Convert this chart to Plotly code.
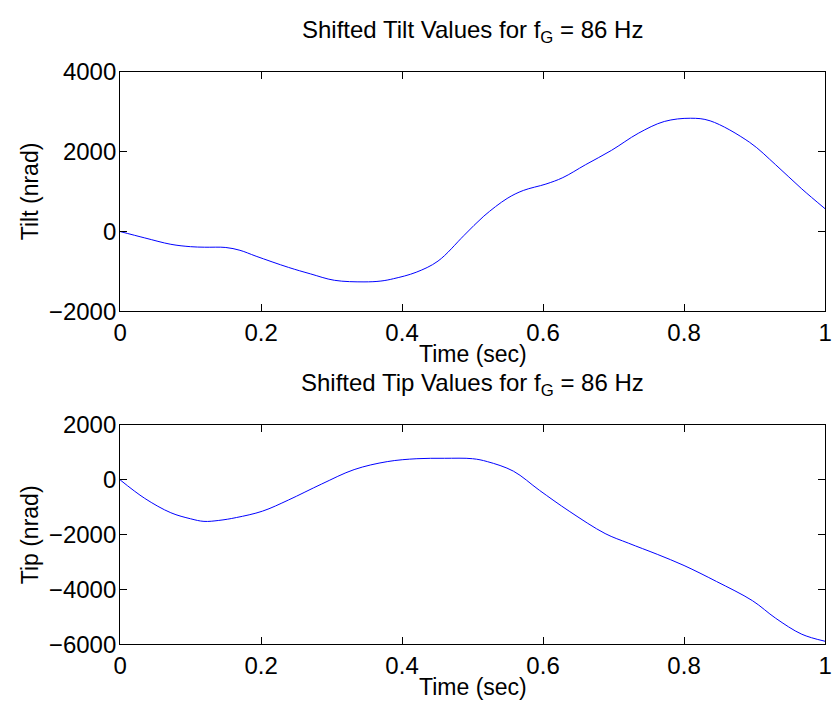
import plotly.graph_objects as go
from plotly.subplots import make_subplots

# Time base (sec) and measured shifted tilt / tip (nrad)
tilt_time = [0.000, 0.035, 0.072, 0.100, 0.120, 0.150, 0.170, 0.193, 0.239, 0.270,
             0.304, 0.346, 0.370, 0.388, 0.420, 0.451, 0.488, 0.516, 0.549, 0.572,
             0.604, 0.628, 0.660, 0.697, 0.735, 0.772, 0.809, 0.837, 0.893, 0.930,
             0.967, 1.000]
tilt_vals = [0, -160, -320, -380, -393, -400, -470, -619, -899, -1060,
             -1221, -1261, -1240, -1181, -1020, -740, -96, 385, 827, 1028,
             1188, 1349, 1670, 2031, 2458, 2755, 2836, 2771, 2233, 1670,
             1067, 571]

tip_time = [0.000, 0.035, 0.072, 0.100, 0.119, 0.140, 0.165, 0.202, 0.239, 0.286,
            0.332, 0.379, 0.421, 0.460, 0.500, 0.521, 0.558, 0.595, 0.637, 0.688,
            0.721, 0.762, 0.800, 0.846, 0.897, 0.930, 0.967, 1.000]
tip_vals = [0, -676, -1200, -1420, -1515, -1480, -1375, -1142, -734, -152,
            373, 664, 770, 785, 770, 664, 315, -385, -1142, -1958,
            -2308, -2716, -3124, -3706, -4406, -5047, -5629, -5885]

x_ticks = [0, 0.2, 0.4, 0.6, 0.8, 1]
x_tick_text = ["0", "0.2", "0.4", "0.6", "0.8", "1"]
tilt_ticks = [-2000, 0, 2000, 4000]
tip_ticks = [-6000, -4000, -2000, 0, 2000]

titles = ["Shifted Tilt Values for f<sub>G</sub> = 86 Hz",
          "Shifted Tip Values for f<sub>G</sub> = 86 Hz"]
y_labels = ["Tilt (nrad)", "Tip (nrad)"]
x_label = "Time (sec)"

W, H = 835, 719
FONT = "Liberation Sans, Arial, Helvetica, sans-serif"

fig = make_subplots(rows=2, cols=1)

fig.add_trace(go.Scatter(x=tilt_time, y=tilt_vals, mode="lines",
                         line=dict(color="#0000ff", width=1, shape="spline", smoothing=1.0),
                         showlegend=False), row=1, col=1)
fig.add_trace(go.Scatter(x=tip_time, y=tip_vals, mode="lines",
                         line=dict(color="#0000ff", width=1, shape="spline", smoothing=1.0),
                         showlegend=False), row=2, col=1)

# axes frame geometry in pixels
left, right = 115, 832
top1, bot1 = 60, 309
top2, bot2 = 427, 655

def py(p):
    return 1 - p / H

axis_common = dict(showline=True, linecolor="black", linewidth=1, mirror="ticks",
                   ticks="inside", ticklen=7, tickcolor="black", tickwidth=1,
                   showgrid=False, zeroline=False, ticklabeloverflow="allow",
                   tickfont=dict(family=FONT, size=24, color="black"))

fig.update_xaxes(range=[0, 1], tickvals=x_ticks, ticktext=x_tick_text,
                 domain=[left / W, right / W], **axis_common)
fig.update_yaxes(ticklabelstandoff=-2, **axis_common)
fig.update_yaxes(range=[-2000, 4000], tickvals=tilt_ticks, domain=[py(bot1), py(top1)], row=1, col=1)
fig.update_yaxes(range=[-6000, 2000], tickvals=tip_ticks, domain=[py(bot2), py(top2)], row=2, col=1)

annotations = []
cx = (left + right) / 2 / W
for title, ytop, ybot, ylab in [(titles[0], top1, bot1, y_labels[0]),
                                (titles[1], top2, bot2, y_labels[1])]:
    annotations.append(dict(text=title, x=cx, y=py(ytop - 24), xref="paper", yref="paper",
                            showarrow=False, xanchor="center", yanchor="bottom",
                            font=dict(family=FONT, size=24, color="black")))
    annotations.append(dict(text=x_label, x=cx, y=py(ybot + 44), xref="paper", yref="paper",
                            showarrow=False, xanchor="center", yanchor="middle",
                            font=dict(family=FONT, size=23, color="black")))
    annotations.append(dict(text=ylab, x=23 / W, y=py((ytop + ybot) / 2), xref="paper", yref="paper",
                            showarrow=False, xanchor="center", yanchor="middle", textangle=-90,
                            font=dict(family=FONT, size=23, color="black")))

fig.update_layout(width=W, height=H, margin=dict(l=0, r=0, t=0, b=0),
                  paper_bgcolor="white", plot_bgcolor="white",
                  annotations=annotations)

fig.write_html("out.html")
